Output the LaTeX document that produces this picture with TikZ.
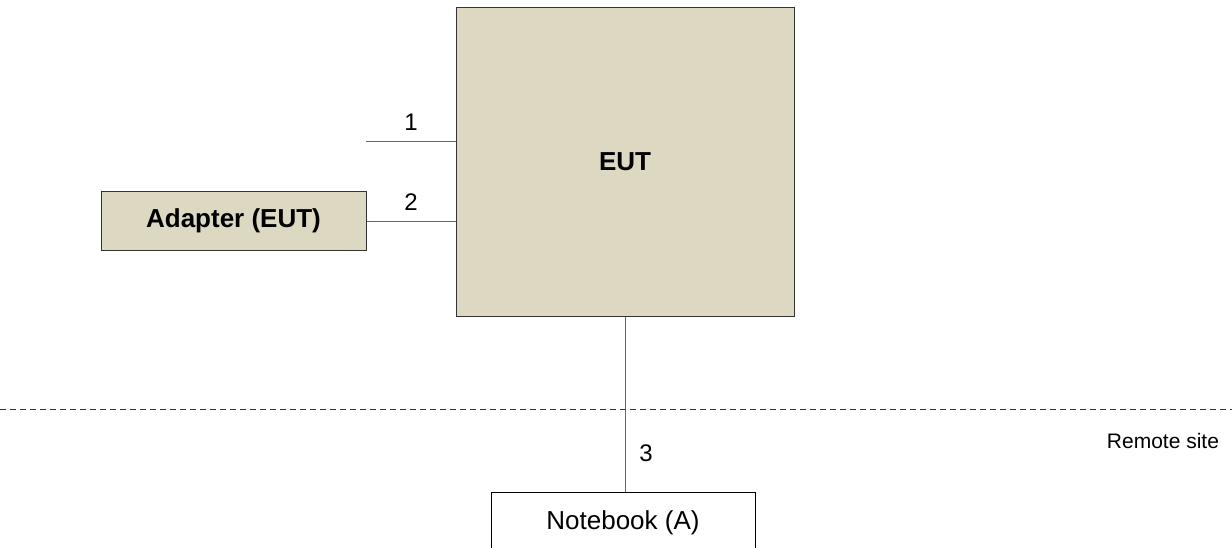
\documentclass[tikz,border=0pt]{standalone}
\usepackage{fontspec}
\setmainfont{Liberation Sans}
\usepackage{tikz}
\usetikzlibrary{positioning,calc}
\definecolor{tan}{HTML}{DDD8C2}
\definecolor{edge}{HTML}{333333}
\definecolor{wire}{HTML}{666666}

\begin{document}
\begin{tikzpicture}[x=1pt,y=-1pt,
    box/.style={draw=edge, line width=1pt, inner sep=0pt, align=center},
    wireline/.style={draw=wire, line width=1pt},
    lbl/.style={font=\fontsize{24}{28}\selectfont}]
    \useasboundingbox (0,0) rectangle (1232,547);

    % EUT block
    \node[box, fill=tan, minimum width=338pt, minimum height=309pt,
          font=\fontsize{26}{30}\selectfont\bfseries] (eut) at (625,161.5) {EUT};

    % Adapter of the EUT
    \node[box, fill=tan, minimum width=265pt, minimum height=59pt,
          font=\fontsize{26}{30}\selectfont\bfseries] (adapter) at (233.5,221) {Adapter (EUT)};

    % Notebook at the remote site
    \node[box, draw=black, fill=white, minimum width=264pt, minimum height=62pt,
          font=\fontsize{26}{30}\selectfont] (nb) at (623,523) {Notebook (A)};

    % Port 1 (open end)
    \coordinate (p1) at (366,141);
    \draw[wireline] (p1) -- (p1 -| eut.west);
    \node[lbl] (l1) at (411,122) {1};

    % Port 2 to adapter
    \draw[wireline] (adapter.east) -- (adapter.east -| eut.west);
    \node[lbl] (l2) at (411,202) {2};

    % Port 3 to notebook
    \draw[wireline] (eut.south) -- (eut.south |- nb.north);
    \node[lbl] (l3) at (646,453) {3};

    % Border of the remote site
    \coordinate (sl) at (0,409);
    \coordinate (sr) at (1232,409);
    \draw[draw=edge, line width=1pt, dash pattern=on 6pt off 4pt] (sl) -- (sr);
    \node[font=\fontsize{21}{25}\selectfont] (remote) at (1163,441) {Remote site};
\end{tikzpicture}
\end{document}
